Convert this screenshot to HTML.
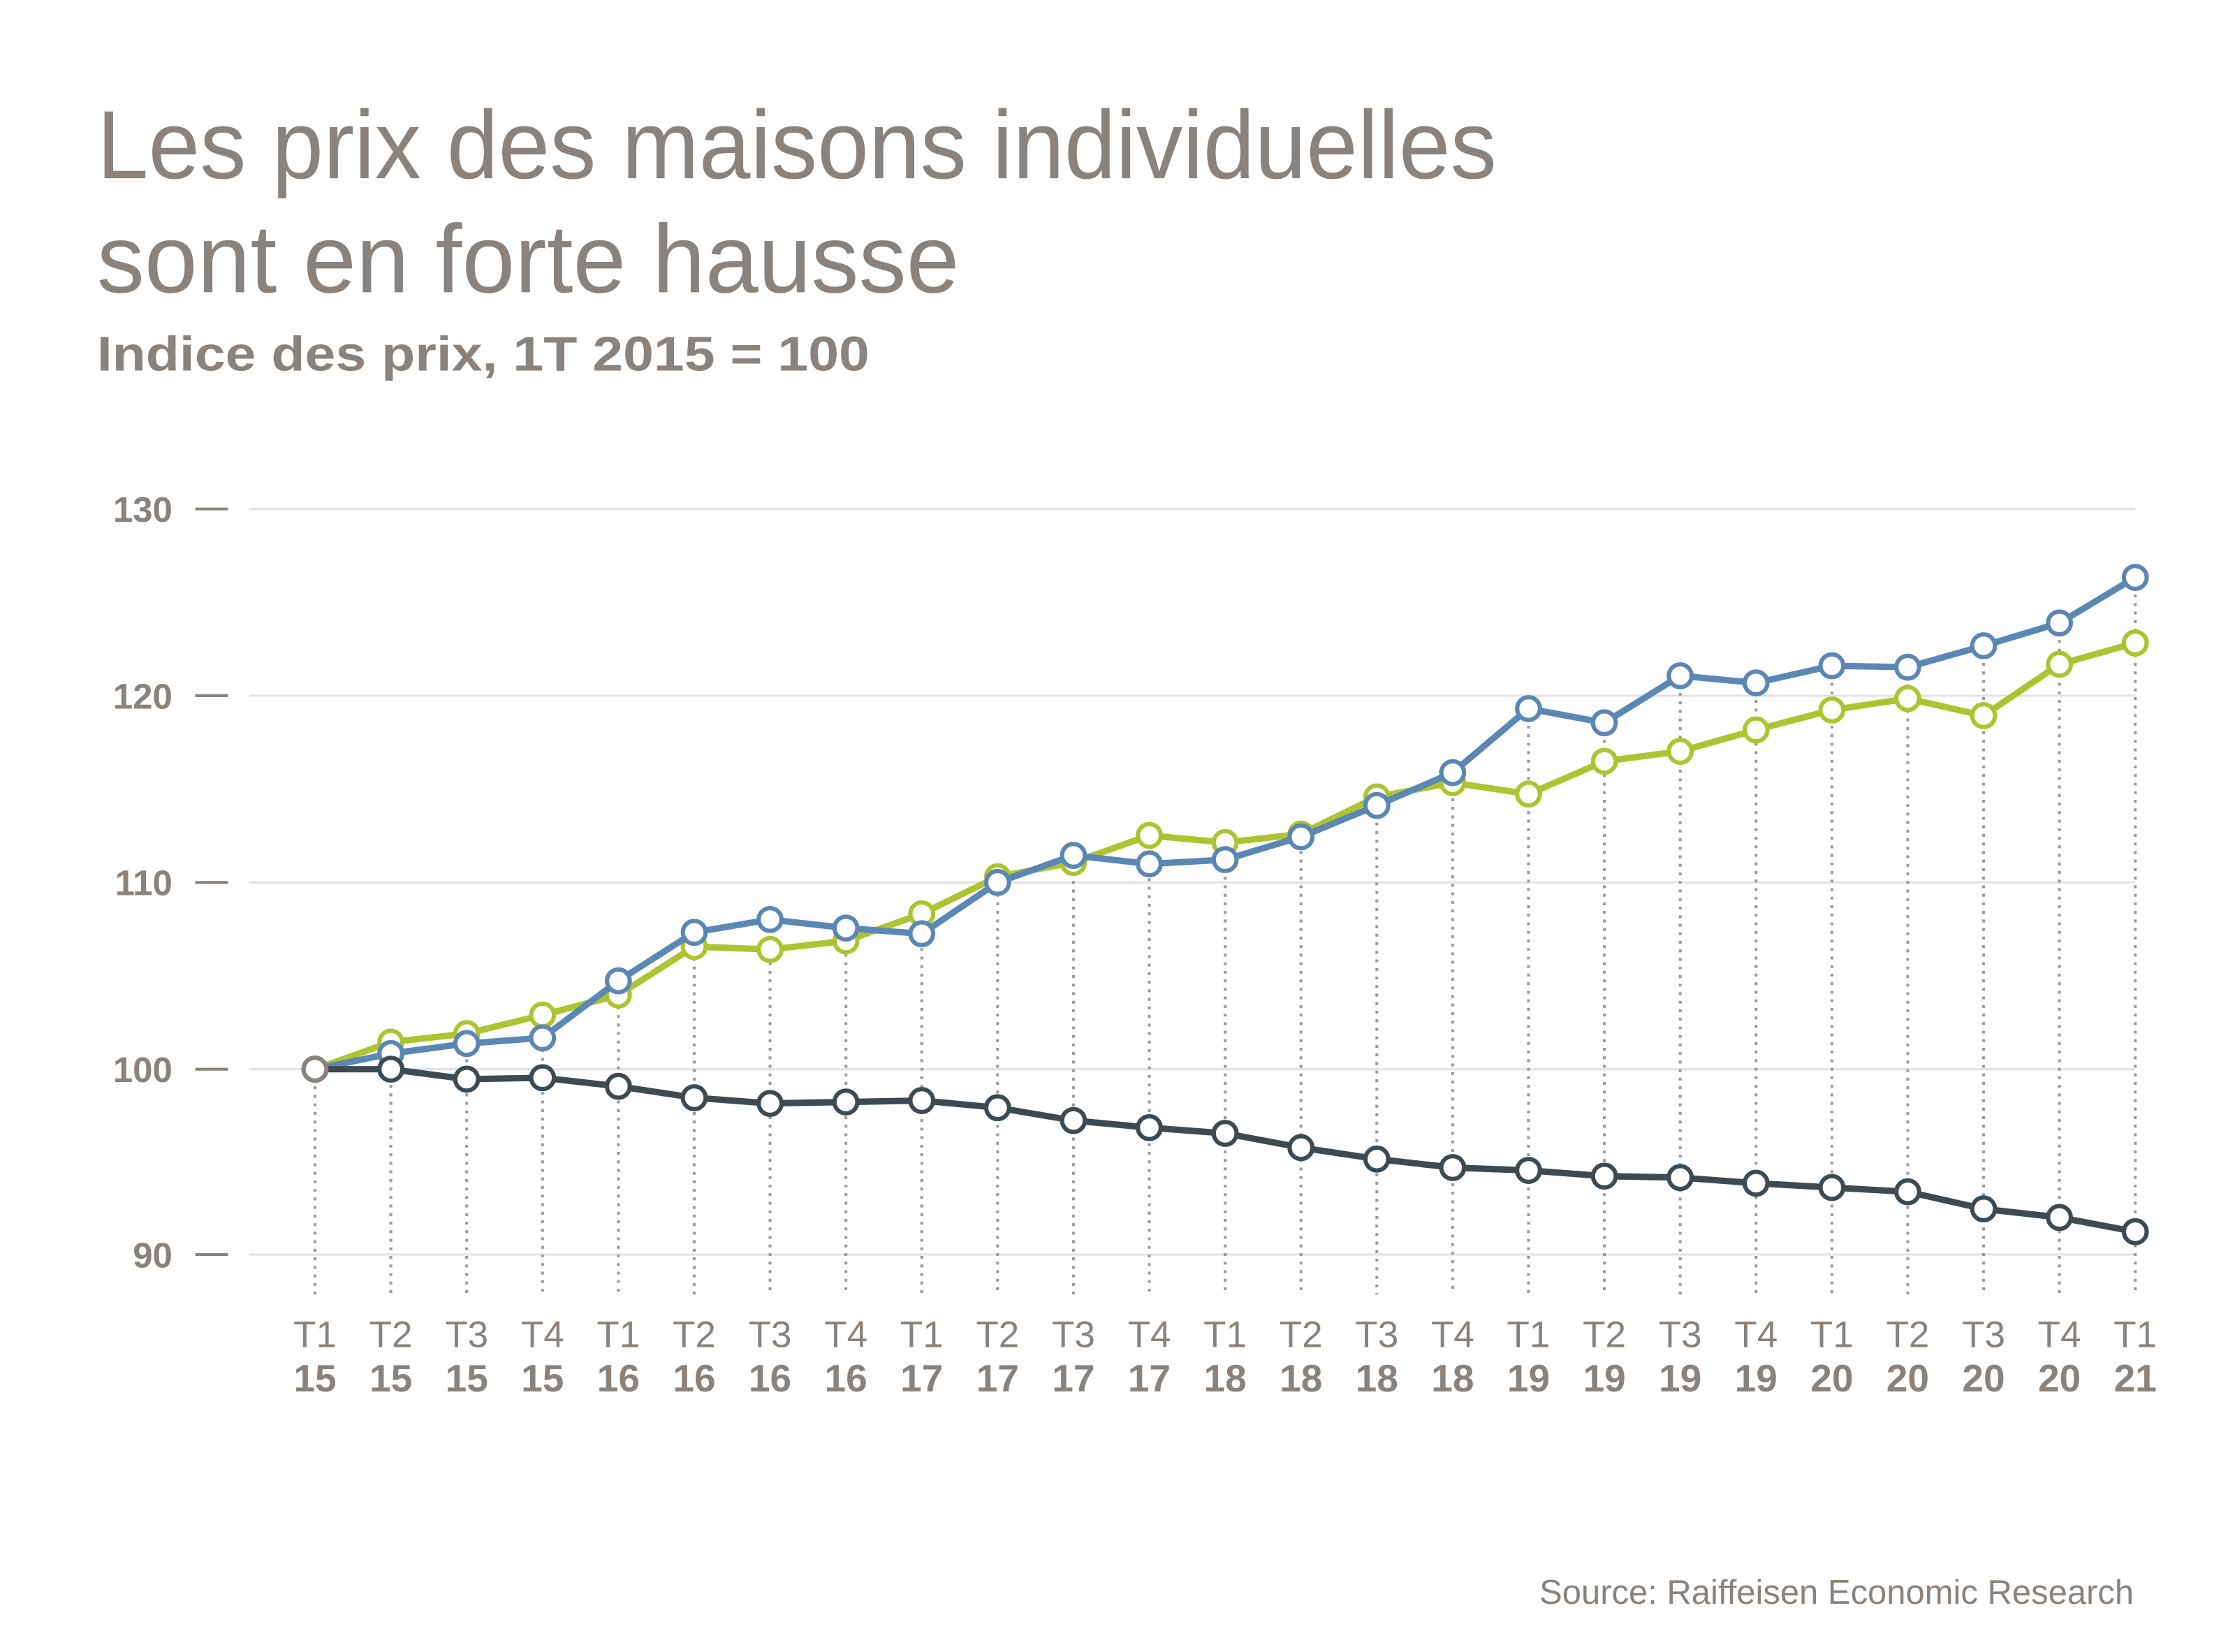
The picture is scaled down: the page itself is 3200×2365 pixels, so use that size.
<!DOCTYPE html>
<html><head><meta charset="utf-8"><style>
html,body{margin:0;padding:0;background:#fff;}
svg{display:block;}
text{font-family:"Liberation Sans",sans-serif;fill:#8a827c;}
</style></head><body>
<svg width="3200" height="2365" viewBox="0 0 1568 1158.8" xmlns="http://www.w3.org/2000/svg">
<rect width="1568" height="1159" fill="#fff"/>
<text x="68" y="125" font-size="68" textLength="982" lengthAdjust="spacingAndGlyphs">Les prix des maisons individuelles</text>
<text x="68" y="205" font-size="68" textLength="605" lengthAdjust="spacingAndGlyphs">sont en forte hausse</text>
<text x="68" y="260" font-size="34" font-weight="bold" textLength="542" lengthAdjust="spacingAndGlyphs">Indice des prix, 1T 2015 = 100</text>
<g stroke="#e3e3e3" stroke-width="1.5">
<line x1="175" y1="357" x2="1498" y2="357"/><line x1="175" y1="488" x2="1498" y2="488"/>
<line x1="175" y1="619" x2="1498" y2="619"/><line x1="175" y1="750" x2="1498" y2="750"/>
<line x1="175" y1="880" x2="1498" y2="880"/>
</g>
<g stroke="#8a827c" stroke-width="2">
<line x1="137" y1="357" x2="160" y2="357"/><line x1="137" y1="488" x2="160" y2="488"/>
<line x1="137" y1="619" x2="160" y2="619"/><line x1="137" y1="750" x2="160" y2="750"/>
<line x1="137" y1="880" x2="160" y2="880"/>
</g>
<g font-size="25" font-weight="bold" text-anchor="end">
<text x="121" y="366">130</text><text x="121" y="497">120</text><text x="121" y="628">110</text>
<text x="121" y="759">100</text><text x="121" y="889">90</text>
</g>
<g id="chart"></g>
</svg>
<script>
const g=document.getElementById('chart');const NS="http://www.w3.org/2000/svg";
const G=[750,731,725,712,698,664,666,660,641,615,605,586,591,585,559,549,557,534,527,512,498,490,502,466,451];
const B=[750,739,732,728,688,654,645,651,655,619,600,606,603,587,565,542,497,507,474,479,467,468,453,437,405];
const D=[750,750,757,756,762,770,774,773,772,777,786,791,795,805,813,819,821,825,826,830,833,836,848,854,864];
const X=i=>221+i*53.21;
function el(t,a){const e=document.createElementNS(NS,t);for(const k in a)e.setAttribute(k,a[k]);g.appendChild(e);return e;}
for(let i=0;i<25;i++){const top=Math.min(G[i],B[i],D[i]);el('line',{x1:X(i),x2:X(i),y1:top,y2:908,stroke:'#9a9a9a','stroke-width':2,'stroke-dasharray':'2 4'});}
const labs=['T1','T2','T3','T4'];
for(let i=0;i<25;i++){const q=i%4,yr=15+Math.floor(i/4);
let t=el('text',{x:X(i),y:945,'font-size':26,'text-anchor':'middle','font-weight':'300'});t.textContent=labs[q];
t=el('text',{x:X(i),y:976,'font-size':27,'text-anchor':'middle','font-weight':'bold'});t.textContent=yr;}
function series(d,c){el('polyline',{points:d.map((y,i)=>X(i)+','+y).join(' '),fill:'none',stroke:c,'stroke-width':4.5,'stroke-linejoin':'round'});
d.forEach((y,i)=>el('circle',{cx:X(i),cy:y,r:8,fill:'#fff',stroke:c,'stroke-width':3}));}
series(G,'#adc430');series(B,'#5b87b5');series(D,'#3d4a52');
el('circle',{cx:X(0),cy:750,r:8,fill:'#fff',stroke:'#8a827c','stroke-width':3});
const s=el('text',{x:1497,y:1125,'font-size':24,'text-anchor':'end','font-weight':'300'});s.textContent='Source: Raiffeisen Economic Research';
</script>
</body></html>
